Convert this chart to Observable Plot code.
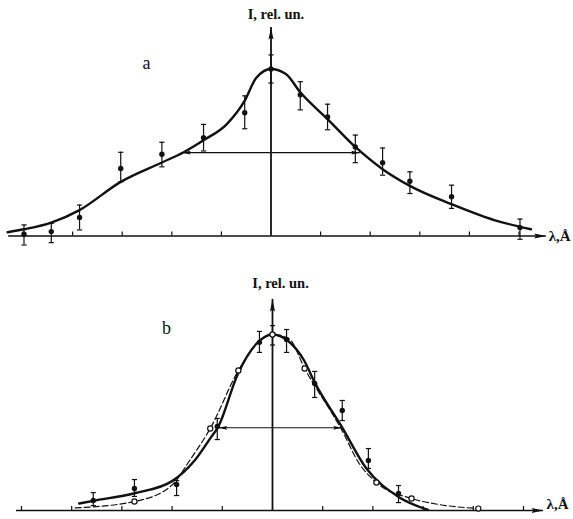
<!DOCTYPE html>
<html><head><meta charset="utf-8">
<script src="https://cdn.jsdelivr.net/npm/d3@7"></script>
<script src="https://cdn.jsdelivr.net/npm/@observablehq/plot@0.6"></script>
<style>body{margin:0;background:#fff} svg{display:block} #chart{width:573px}</style>
</head><body><div id="chart"></div>
<script>
// ---------- Panel a ----------
const aPointX = [-4.98, -4.43, -3.86, -3.03, -2.20, -1.36, -0.53, 0.00, 0.59, 1.14, 1.70, 2.25, 2.80, 3.64, 5.02];
const aPointY = [0.010, 0.026, 0.111, 0.404, 0.489, 0.588, 0.738, 1.000, 0.845, 0.712, 0.533, 0.439, 0.328, 0.235, 0.050];
const aErrLo  = [-0.054, -0.040, 0.036, 0.324, 0.414, 0.509, 0.642, 0.916, 0.755, 0.636, 0.439, 0.364, 0.254, 0.165, -0.020];
const aErrHi  = [0.066, 0.076, 0.185, 0.501, 0.561, 0.668, 0.839, 1.084, 0.924, 0.789, 0.604, 0.527, 0.384, 0.304, 0.101];
const aCurveX = [-5.31, -4.98, -4.43, -3.86, -3.03, -2.20, -1.77, -1.36, -0.89, -0.53, -0.30, 0.00, 0.30, 0.59, 1.14, 1.70, 2.25, 2.80, 3.64, 4.50, 5.24];
const aCurveY = [0.022, 0.040, 0.080, 0.155, 0.324, 0.440, 0.500, 0.573, 0.670, 0.810, 0.946, 1.000, 0.970, 0.860, 0.700, 0.533, 0.400, 0.300, 0.190, 0.095, 0.040];
const aHalfX = [-1.80, 1.80];
const aHalfY = 0.499;

// ---------- Panel b ----------
const bFilledX = [-3.57, -2.75, -1.91, -1.10, -0.26, 0.00, 0.28, 0.84, 1.39, 1.91, 2.51];
const bFilledY = [0.057, 0.125, 0.148, 0.477, 0.955, null, 0.972, 0.722, 0.568, 0.284, 0.097];
const bErrLo   = [0.028, 0.080, 0.085, 0.403, 0.898, 0.940, 0.898, 0.642, 0.511, 0.239, 0.045];
const bErrHi   = [0.102, 0.176, 0.170, 0.523, 1.017, 1.050, 1.028, 0.790, 0.625, 0.352, 0.142];
const bOpenX = [-2.75, -1.24, -0.68, 0.00, 0.64, 2.07, 2.77, 4.10];
const bOpenY = [0.051, 0.466, 0.795, 1.000, 0.807, 0.159, 0.068, 0.011];
const bSolidX = [-3.85, -3.57, -2.75, -2.00, -1.56, -1.23, -1.09, -0.69, -0.32, 0.00, 0.30, 0.63, 0.84, 1.39, 1.86, 2.52, 3.10];
const bSolidY = [0.040, 0.055, 0.098, 0.167, 0.281, 0.414, 0.471, 0.776, 0.947, 1.000, 0.966, 0.852, 0.728, 0.471, 0.243, 0.076, 0.004];
const bDashX = [-3.93, -2.75, -2.00, -1.66, -1.24, -0.68, -0.32, 0.00, 0.33, 0.64, 1.39, 1.72, 2.07, 2.77, 3.32, 4.10];
const bDashY = [0.015, 0.051, 0.145, 0.280, 0.466, 0.795, 0.945, 1.000, 0.975, 0.807, 0.452, 0.270, 0.159, 0.068, 0.034, 0.011];
const bHalfX = [-1.08, 1.39];
const bHalfY = 0.470;

// ---------- Axes / labels ----------
const ticksX = [-5, -4, -3, -2, -1, 1, 2, 3, 4, 5];
const yAxisTitle = "I, rel. un.";
const xAxisTitle = "λ,Å";
const panelNames = ["a", "b"];

const serif = "'Liberation Serif', 'DejaVu Serif', serif";
const ink = "#111";

const headSymbol = {draw(ctx, size) {
  const r = Math.sqrt(size / Math.PI);
  ctx.moveTo(0, 0); ctx.lineTo(0.42 * r, 2 * r); ctx.lineTo(0, 1.7 * r); ctx.lineTo(-0.42 * r, 2 * r); ctx.closePath();
}};
const capSymbol = {draw(ctx, size) {
  const r = Math.sqrt(size / Math.PI);
  ctx.moveTo(-r, 0); ctx.lineTo(r, 0);
}};

const pts = (xs, ys) => xs.map((x, i) => ({x, y: ys[i]})).filter(d => d.y != null);
const bars = (xs, lo, hi) => xs.map((x, i) => ({x, lo: lo[i], hi: hi[i]}));

function panel({height, xDomain, yDomain, axisStart, axisEnd, yTop, tickLen, marks, name, nameX, nameY, titleX, titleY, lamX, lamY}) {
  return Plot.plot({
    width: 573, height, margin: 0,
    x: {domain: xDomain, axis: null},
    y: {domain: yDomain, axis: null},
    marks: [
      Plot.ruleY([0], {x1: axisStart, x2: axisEnd, stroke: ink, strokeWidth: 1.4}),
      Plot.dot([axisEnd], {x: d => d, y: 0, symbol: headSymbol, r: 6, rotate: 90, fill: ink, stroke: "none"}),
      Plot.ruleX(ticksX, {y1: 0, y2: tickLen, stroke: ink, strokeWidth: 1.2}),
      Plot.ruleX([0], {y1: 0, y2: yTop, stroke: ink, strokeWidth: 1.8}),
      Plot.dot([yTop], {x: 0, y: d => d, symbol: headSymbol, r: 6, fill: ink, stroke: "none"}),
      ...marks,
      Plot.text([yAxisTitle], {x: titleX, y: titleY, lineAnchor: "bottom", textAnchor: "middle", fontFamily: serif, fontWeight: "bold", fontSize: 14.5, fill: ink}),
      Plot.text([xAxisTitle], {x: lamX, y: lamY, lineAnchor: "bottom", textAnchor: "start", fontFamily: serif, fontWeight: "bold", fontSize: 15, fill: ink}),
      Plot.text([name], {x: nameX, y: nameY, lineAnchor: "bottom", textAnchor: "middle", fontFamily: serif, fontSize: 18, fill: ink})
    ]
  });
}

function errorMarks(b) {
  return [
    Plot.ruleX(b, {x: "x", y1: "lo", y2: "hi", stroke: ink, strokeWidth: 1.2}),
    Plot.dot(b, {x: "x", y: "lo", symbol: capSymbol, r: 2.6, stroke: ink, strokeWidth: 1.2, fill: "none"}),
    Plot.dot(b, {x: "x", y: "hi", symbol: capSymbol, r: 2.6, stroke: ink, strokeWidth: 1.2, fill: "none"})
  ];
}

function halfWidth(xs, y) {
  return [
    Plot.ruleY([y], {x1: xs[0], x2: xs[1], stroke: ink, strokeWidth: 1.1}),
    Plot.dot([xs[0]], {x: d => d, y, symbol: headSymbol, r: 4.5, rotate: -90, fill: ink, stroke: "none"}),
    Plot.dot([xs[1]], {x: d => d, y, symbol: headSymbol, r: 4.5, rotate: 90, fill: ink, stroke: "none"})
  ];
}

const plotA = panel({
  height: 260, xDomain: [-5.454, 6.099], yDomain: [-0.147, 1.410],
  axisStart: -5.29, axisEnd: 5.55, yTop: 1.249, tickLen: 0.024,
  name: panelNames[0], nameX: -2.51, nameY: 0.997,
  titleX: 0.10, titleY: 1.302, lamX: 5.60, lamY: -0.03,
  marks: [
    ...halfWidth(aHalfX, aHalfY),
    Plot.line(pts(aCurveX, aCurveY), {x: "x", y: "y", curve: "monotone-x", stroke: ink, strokeWidth: 2.4}),
    ...errorMarks(bars(aPointX, aErrLo, aErrHi)),
    Plot.dot(pts(aPointX, aPointY), {x: "x", y: "y", r: 2.7, fill: ink})
  ]
});

const plotB = panel({
  height: 259, xDomain: [-5.418, 5.996], yDomain: [-0.051, 1.420],
  axisStart: -5.10, axisEnd: 5.40, yTop: 1.199, tickLen: 0.023,
  name: panelNames[1], nameX: -2.11, nameY: 1.0,
  titleX: 0.16, titleY: 1.261, lamX: 5.46, lamY: 0.01,
  marks: [
    ...halfWidth(bHalfX, bHalfY),
    Plot.line(pts(bDashX, bDashY), {x: "x", y: "y", curve: "monotone-x", stroke: ink, strokeWidth: 1.2, strokeDasharray: "6,3"}),
    Plot.line(pts(bSolidX, bSolidY), {x: "x", y: "y", curve: "monotone-x", stroke: ink, strokeWidth: 2.4}),
    ...errorMarks(bars(bFilledX, bErrLo, bErrHi)),
    Plot.dot(pts(bFilledX, bFilledY), {x: "x", y: "y", r: 2.7, fill: ink}),
    Plot.dot(pts(bOpenX, bOpenY), {x: "x", y: "y", r: 2.6, fill: "white", stroke: ink, strokeWidth: 1.2})
  ]
});

document.getElementById("chart").append(plotA, plotB);
</script>
</body></html>
